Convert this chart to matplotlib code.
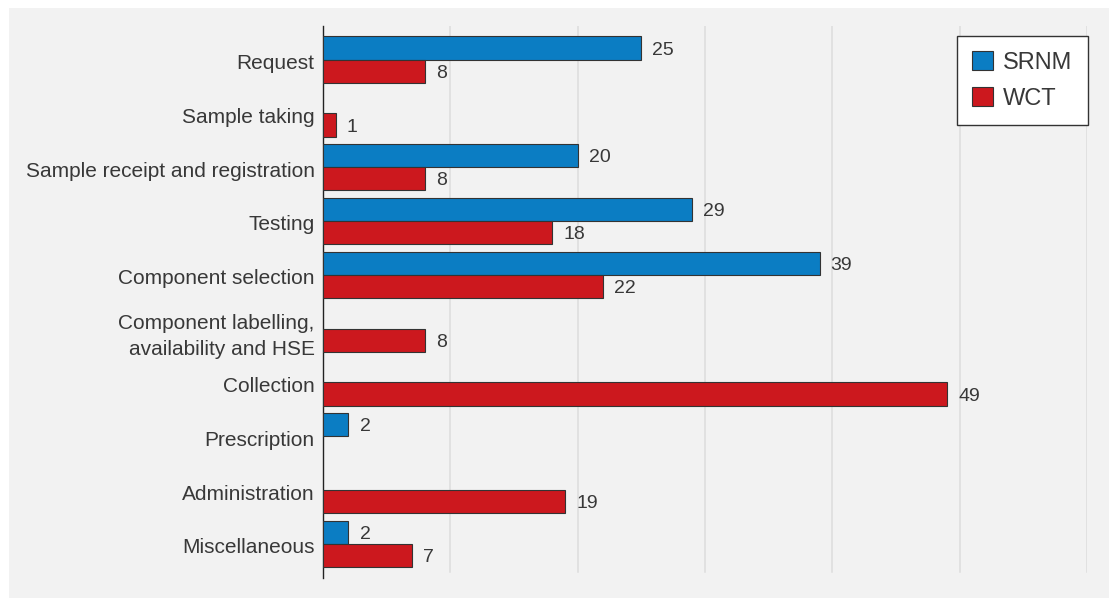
import numpy as np
import matplotlib
matplotlib.use('Agg')
import matplotlib.pyplot as plt
import matplotlib.transforms as mtransforms
from matplotlib.patches import Rectangle, Patch

plt.rcParams['font.family'] = ['Liberation Sans', 'DejaVu Sans']

categories = ['Request', 'Sample taking', 'Sample receipt and registration',
              'Testing', 'Component selection',
              'Component labelling,\navailability and HSE', 'Collection',
              'Prescription', 'Administration', 'Miscellaneous']
srnm = [25, 0, 20, 29, 39, 0, 0, 2, 0, 2]
wct = [8, 1, 8, 18, 22, 8, 49, 0, 19, 7]
series_names = ['SRNM', 'WCT']

blue = '#0b7dc3'
red = '#cc181e'
edge = '#333333'
text_c = '#383838'
bg = '#f2f2f2'

W, H = 1109, 598
fig = plt.figure(figsize=(W / 100, H / 100), dpi=100, facecolor='white')
# grey panel behind everything, leaving a thin white margin top and left
fig.patches.append(Rectangle((9 / W, 0), 1, 1 - 8 / H, transform=fig.transFigure,
                             facecolor=bg, edgecolor='none', zorder=-10))

ax = fig.add_axes([323 / W, 1 - 577.7 / H, (1087 - 323) / W, (577.7 - 25.7) / H])
ax.set_facecolor(bg)

y = np.arange(len(categories))
h = 0.431
off = 0.2157

for vals, dy, col in [(srnm, -off, blue), (wct, off, red)]:
    vals = np.array(vals)
    keep = vals > 0
    ax.barh(y[keep] + dy, vals[keep], height=h, color=col, edgecolor=edge,
            linewidth=0.8, zorder=3)
    for yy, v in zip(y[keep] + dy, vals[keep]):
        ax.annotate(str(v), (v, yy), xytext=(8, -1.5), textcoords='offset points',
                    va='center', ha='left', fontsize=14, color=text_c)

ax.set_xlim(0, 60)
ax.set_ylim(len(categories) - 1 + 0.63, -0.63)

# vertical gridlines stop a little above the bottom of the spine
for gx in range(10, 61, 10):
    ax.axvline(gx, ymin=0.0105, ymax=1, color='#dcdcdc', linewidth=1.1, zorder=1)

ax.set_xticks([])
ax.set_yticks(y)
ax.set_yticklabels(categories, fontsize=15, color=text_c)
ax.tick_params(axis='y', length=0, pad=6)
shift = mtransforms.ScaledTranslation(0, -2 / 100, fig.dpi_scale_trans)
for lab in ax.get_yticklabels():
    lab.set_transform(lab.get_transform() + shift)
    lab.set_linespacing(1.5)
for s in ['top', 'right', 'bottom']:
    ax.spines[s].set_visible(False)
ax.spines['left'].set_color('#222222')
ax.spines['left'].set_linewidth(1.0)

handles = [Patch(facecolor=blue, edgecolor=edge, linewidth=0.8),
           Patch(facecolor=red, edgecolor=edge, linewidth=0.8)]
leg = ax.legend(handles, series_names, loc='upper right',
                bbox_to_anchor=(1.0013, 0.982), borderaxespad=0,
                fontsize=17, frameon=True, fancybox=False,
                handlelength=0.88, handleheight=0.88, handletextpad=0.45,
                borderpad=0.65, labelspacing=0.55)
leg.get_frame().set_facecolor('white')
leg.get_frame().set_edgecolor('#333333')
leg.get_frame().set_linewidth(1.0)
leg.get_frame().set_alpha(1)
for t in leg.get_texts():
    t.set_color(text_c)
leg.set_zorder(5)

fig.savefig('out.png', dpi=100, facecolor='white')
